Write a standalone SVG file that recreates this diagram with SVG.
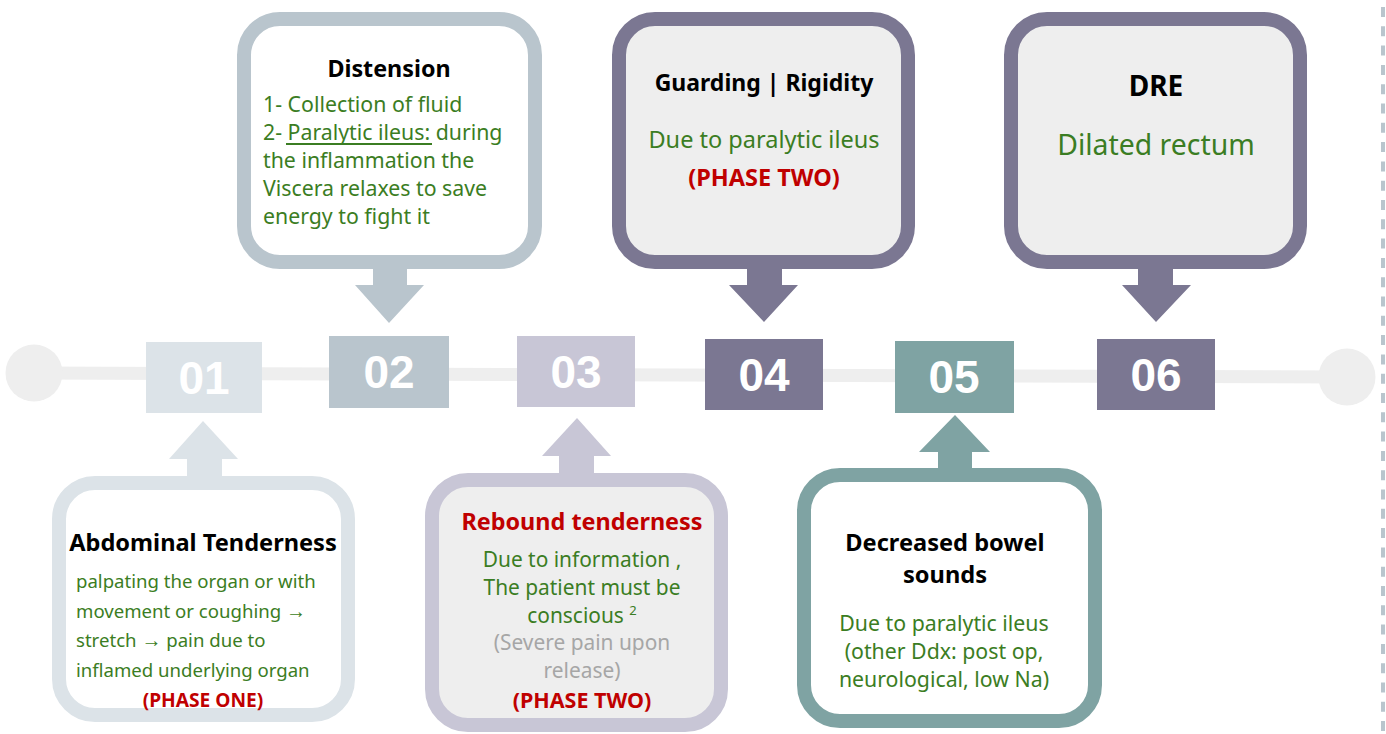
<svg xmlns="http://www.w3.org/2000/svg" width="1386" height="734" viewBox="0 0 1386 734">
<style>
  text { font-family: "Noto Sans", "Open Sans", sans-serif; }
  .num { font-family: "Liberation Sans", Arial, sans-serif; font-weight: bold; font-size: 46px; fill: #ffffff; text-anchor: middle; }
  .ttl { font-weight: bold; fill: #000000; text-anchor: middle; font-size: 23.6px; }
  .grn { fill: #3b7d23; font-size: 21.3px; }
  .red { fill: #c00000; font-weight: bold; }
  .gry { fill: #a6a6a6; font-size: 20.9px; }
  .mid { text-anchor: middle; }
  .arr { font-family: "Liberation Serif", "DejaVu Serif", serif; font-size: 20px; }
  .box { stroke-width: 14; }
</style>
<rect width="1386" height="734" fill="#ffffff"/>
<line x1="1383" y1="7" x2="1383" y2="734" stroke="#b9c5cd" stroke-width="4" stroke-dasharray="10 9.3"/>

<g id="connectors">
  <line x1="34" y1="373" x2="1347" y2="377" stroke="#eeeeee" stroke-width="13"/>
  <circle cx="34" cy="373" r="28.5" fill="#eeeeee"/>
  <circle cx="1347" cy="377" r="28.5" fill="#eeeeee"/>
  <path d="M373,262 H407 V285 H424 L389,323 L355,285 H373 Z" fill="#b9c5cd"/>
  <path d="M747,262 H782 V285 H798 L764,322 L729,285 H747 Z" fill="#7b7792"/>
  <path d="M1138,262 H1173 V285 H1191 L1156,322 L1122,285 H1138 Z" fill="#7b7792"/>
  <path d="M187,483 H222 V459 H238 L203,421 L169,459 H187 Z" fill="#dce3e8"/>
  <path d="M559,480 H594 V456 H611 L577,418 L542,456 H559 Z" fill="#c8c6d6"/>
  <path d="M938,475 H972 V452 H990 L955,415 L919,452 H938 Z" fill="#7fa3a3"/>
</g>

<g id="step-01"><rect x="146" y="342" width="116" height="71" fill="#dce3e8"/><text class="num" x="204" y="394">01</text></g>
<g id="step-02"><rect x="329" y="336" width="120" height="72" fill="#b9c5cd"/><text class="num" x="389" y="388">02</text></g>
<g id="step-03"><rect x="517" y="336" width="118" height="71" fill="#c8c6d6"/><text class="num" x="576" y="388">03</text></g>
<g id="step-04"><rect x="705" y="339" width="118" height="71" fill="#7b7792"/><text class="num" x="764" y="391">04</text></g>
<g id="step-05"><rect x="895" y="341" width="119" height="72" fill="#7fa3a3"/><text class="num" x="954" y="393">05</text></g>
<g id="step-06"><rect x="1097" y="339" width="118" height="71" fill="#7b7792"/><text class="num" x="1156" y="391">06</text></g>

<g id="distension">
  <rect class="box" x="244" y="19" width="291" height="243" rx="36" fill="#ffffff" stroke="#b9c5cd"/>
  <text class="ttl" x="389" y="77" style="font-size:23.3px">Distension</text>
  <text class="grn" x="263" y="112">1- Collection of fluid</text>
  <text class="grn" x="263" y="140">2- Paralytic ileus: during</text>
  <line x1="286" y1="144" x2="432" y2="144" stroke="#3b7d23" stroke-width="2"/>
  <text class="grn" x="263" y="168">the inflammation the</text>
  <text class="grn" x="263" y="196">Viscera relaxes to save</text>
  <text class="grn" x="263" y="224">energy to fight it</text>
</g>

<g id="guarding">
  <rect class="box" x="619" y="19" width="289" height="243" rx="36" fill="#eeeeee" stroke="#7b7792"/>
  <text class="ttl" x="764" y="91" style="font-size:23px">Guarding | Rigidity</text>
  <text class="grn mid" x="764" y="148" style="font-size:23.5px">Due to paralytic ileus</text>
  <text class="red mid" x="764" y="186" style="font-size:23.5px">(PHASE TWO)</text>
</g>

<g id="dre">
  <rect class="box" x="1011" y="19" width="289" height="243" rx="36" fill="#eeeeee" stroke="#7b7792"/>
  <text class="ttl" x="1156" y="96" style="font-size:28px">DRE</text>
  <text class="grn mid" x="1156" y="155" style="font-size:28.4px">Dilated rectum</text>
</g>

<g id="abdominal-tenderness">
  <rect class="box" x="59" y="483" width="289" height="232" rx="36" fill="#ffffff" stroke="#dce3e8"/>
  <text class="ttl" x="203" y="551">Abdominal Tenderness</text>
  <text class="grn" x="76" y="588" style="font-size:18.6px">palpating the organ or with</text>
  <text class="grn" x="76" y="618" style="font-size:18.6px">movement or coughing <tspan class="arr">→</tspan></text>
  <text class="grn" x="76" y="647" style="font-size:18.6px">stretch <tspan class="arr">→</tspan> pain due to</text>
  <text class="grn" x="76" y="677" style="font-size:18.6px">inflamed underlying organ</text>
  <text class="red mid" x="203" y="707" style="font-size:19.2px">(PHASE ONE)</text>
</g>

<g id="rebound-tenderness">
  <rect class="box" x="432" y="480" width="289" height="245" rx="36" fill="#eeeeee" stroke="#c8c6d6"/>
  <text class="red mid" x="582" y="530" style="font-size:23.4px">Rebound tenderness</text>
  <text class="grn mid" x="582" y="567" style="font-size:20.9px">Due to information ,</text>
  <text class="grn mid" x="582" y="595" style="font-size:20.9px">The patient must be</text>
  <text class="grn mid" x="582" y="623" style="font-size:20.9px">conscious <tspan dy="-8" style="font-size:13px">2</tspan></text>
  <text class="gry mid" x="582" y="650">(Severe pain upon</text>
  <text class="gry mid" x="582" y="678">release)</text>
  <text class="red mid" x="582" y="708" style="font-size:21.5px">(PHASE TWO)</text>
</g>

<g id="decreased-bowel-sounds">
  <rect class="box" x="804" y="475" width="291" height="246" rx="36" fill="#ffffff" stroke="#7fa3a3"/>
  <text class="ttl" x="945" y="551">Decreased bowel</text>
  <text class="ttl" x="945" y="583">sounds</text>
  <text class="grn mid" x="944" y="631">Due to paralytic ileus</text>
  <text class="grn mid" x="944" y="659">(other Ddx: post op,</text>
  <text class="grn mid" x="944" y="687">neurological, low Na)</text>
</g>
</svg>
